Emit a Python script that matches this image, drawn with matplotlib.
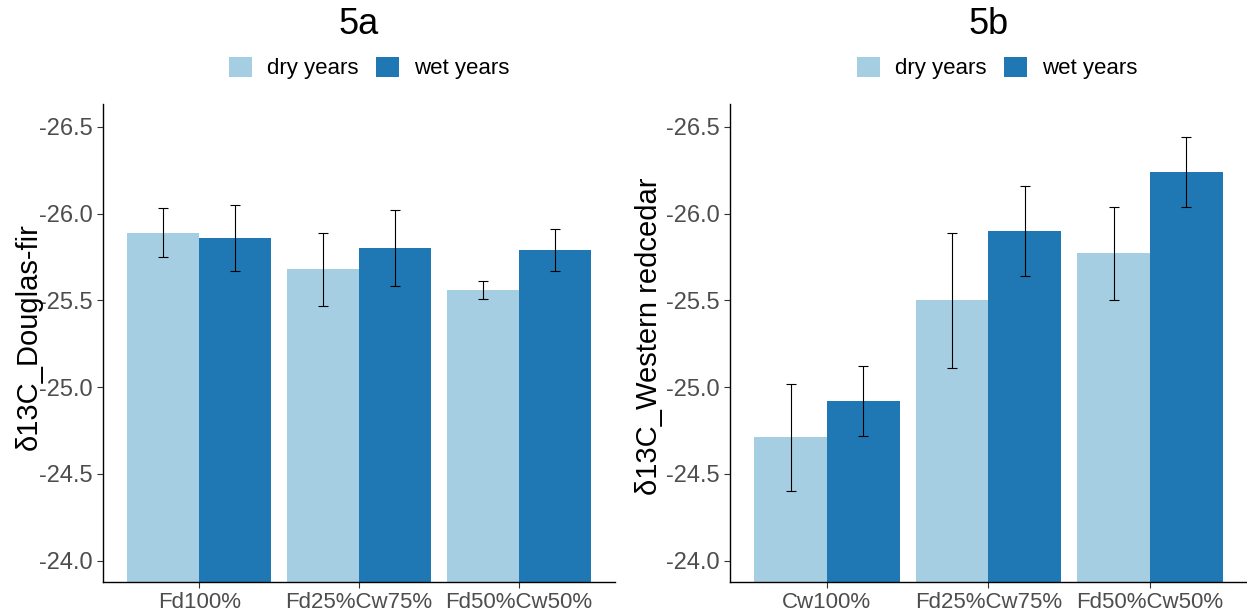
import numpy as np
import matplotlib
matplotlib.use("Agg")
from matplotlib import pyplot as plt
from matplotlib.patches import Patch

plt.rcParams['font.family'] = ['Liberation Sans', 'DejaVu Sans']

# delta 13C means and standard errors per stand type
groups_a = ["Fd100%", "Fd25%Cw75%", "Fd50%Cw50%"]
dry_a = [-25.89, -25.68, -25.56]
wet_a = [-25.86, -25.80, -25.79]
dry_a_se = [0.14, 0.21, 0.05]
wet_a_se = [0.19, 0.22, 0.12]

groups_b = ["Cw100%", "Fd25%Cw75%", "Fd50%Cw50%"]
dry_b = [-24.71, -25.50, -25.77]
wet_b = [-24.92, -25.90, -26.24]
dry_b_se = [0.31, 0.39, 0.27]
wet_b_se = [0.20, 0.26, 0.20]

light = "#A6CEE3"
dark = "#1F78B4"
y_bottom, y_top = -23.875, -26.63   # reversed axis
tickcol = "#4D4D4D"

fig = plt.figure(figsize=(12.47, 6.13), dpi=100)
ax1 = fig.add_axes([0.0828, 0.0501, 0.4103, 0.7798])
ax2 = fig.add_axes([0.5854, 0.0501, 0.4146, 0.7798])

def draw(ax, groups, dry, wet, dry_se, wet_se, ylab, labx, title, legx):
    x = np.arange(1, len(groups) + 1)
    w = 0.45
    dry = np.array(dry)
    wet = np.array(wet)
    ax.bar(x - w/2, dry - y_bottom, bottom=y_bottom, width=w, color=light, edgecolor="none")
    ax.bar(x + w/2, wet - y_bottom, bottom=y_bottom, width=w, color=dark, edgecolor="none")
    ax.errorbar(x - w/2, dry, yerr=dry_se, fmt="none", ecolor="black", elinewidth=0.8, capsize=3.8, capthick=0.8)
    ax.errorbar(x + w/2, wet, yerr=wet_se, fmt="none", ecolor="black", elinewidth=0.8, capsize=3.8, capthick=0.8)
    ax.set_xlim(0.4, 3.6)
    ax.set_ylim(y_bottom, y_top)
    ax.set_yticks([-26.5, -26.0, -25.5, -25.0, -24.5, -24.0])
    ax.set_yticklabels(["-26.5", "-26.0", "-25.5", "-25.0", "-24.5", "-24.0"])
    ax.set_xticks(x)
    ax.set_xticklabels(groups)
    ax.tick_params(axis="y", labelsize=17)
    ax.tick_params(axis="x", labelsize=16, pad=3)
    ax.tick_params(axis="both", labelcolor=tickcol, color="#333333", length=4, width=0.8)
    for s in ["top", "right"]:
        ax.spines[s].set_visible(False)
    for s in ["left", "bottom"]:
        ax.spines[s].set_linewidth(1.0)
    ax.set_ylabel(ylab, fontsize=21)
    ax.yaxis.set_label_coords(labx, 0.515)
    pos = ax.get_position()
    fig.text(pos.x0 + pos.width/2, 1 - 25/613, title, fontsize=26, ha="center", va="center")
    handles = [Patch(facecolor=light, label="dry years"), Patch(facecolor=dark, label="wet years")]
    fig.legend(handles=handles, loc="center", bbox_to_anchor=(legx, 1 - 68/613), ncol=2, frameon=False,
               fontsize=16, handlelength=1.04, handleheight=1.04, handletextpad=0.68,
               columnspacing=0.77, borderpad=0)

draw(ax1, groups_a, dry_a, wet_a, dry_a_se, wet_a_se, "δ13C_Douglas-fir", -0.118, "5a", 0.2963)
draw(ax2, groups_b, dry_b, wet_b, dry_b_se, wet_b_se, "δ13C_Western redcedar", -0.129, "5b", 0.7995)

fig.savefig("out.png", dpi=100)
